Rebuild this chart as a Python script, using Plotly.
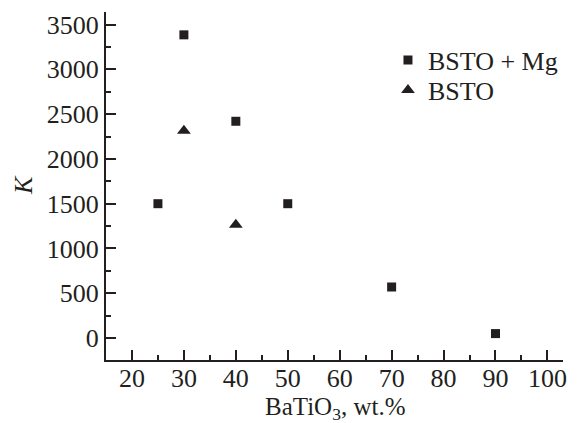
import plotly.graph_objects as go

# Data
x_mg = [25, 30, 40, 50, 70, 90]
k_mg = [1500, 3385, 2420, 1500, 570, 50]
x_bsto = [30, 40]
k_bsto = [2315, 1265]
x_title = "BaTiO<sub>3</sub>, wt.%"
y_title = "<i>K</i>"

FONT = "Liberation Serif"
INK = "#231f20"
FS = 26
FT = 25

fig = go.Figure()
fig.add_trace(go.Scatter(x=x_mg, y=k_mg, mode="markers", name="BSTO + Mg",
                         marker=dict(symbol="square", size=9, color=INK), legend="legend"))
fig.add_trace(go.Scatter(x=x_bsto, y=k_bsto, mode="markers", name="BSTO",
                         marker=dict(symbol="triangle-up", size=12, color=INK), legend="legend2"))

axis_common = dict(
    showline=True, linecolor=INK, linewidth=2, mirror=False,
    showgrid=False, zeroline=False, automargin=False,
    ticks="inside", ticklen=10, tickwidth=1.5, tickcolor=INK,
    tickfont=dict(family=FONT, size=FS, color=INK),
)

fig.update_xaxes(range=[15, 103], tick0=20, dtick=10, ticklabelstandoff=-6,
                 minor=dict(ticks="inside", ticklen=5, tickwidth=1.5, tickcolor=INK, dtick=5, tick0=20),
                 **axis_common)
fig.update_yaxes(range=[-245, 3640], tick0=0, dtick=500,
                 minor=dict(ticks="inside", ticklen=5, tickwidth=1.5, tickcolor=INK, dtick=250, tick0=0),
                 **axis_common)

PL, PR, PT, PB = 106, 563, 12, 360
W, H = PR - PL, PB - PT

fig.add_annotation(text=x_title, xref="paper", yref="paper",
                   x=(335 - PL) / W, y=(PB - 408) / H, xanchor="center", yanchor="middle",
                   showarrow=False, borderpad=0, font=dict(family=FONT, size=FT, color=INK))
fig.add_annotation(text=y_title, xref="paper", yref="paper",
                   x=(23 - PL) / W, y=(PB - 185) / H, xanchor="center", yanchor="middle",
                   textangle=-90, showarrow=False, font=dict(family=FONT, size=FS, color=INK))

leg = dict(xanchor="left", yanchor="middle", bgcolor="rgba(0,0,0,0)",
           font=dict(family=FONT, size=FS, color=INK), itemsizing="trace")
fig.update_layout(
    width=578, height=423,
    margin=dict(l=PL, r=578 - PR, t=PT, b=423 - PB),
    paper_bgcolor="white", plot_bgcolor="white",
    font=dict(family=FONT, size=FS, color=INK),
    showlegend=True,
    legend=dict(x=0.617, y=(PB - 60) / H, **leg),
    legend2=dict(x=0.617, y=(PB - 90) / H, **leg),
)

fig.write_html("out.html")
